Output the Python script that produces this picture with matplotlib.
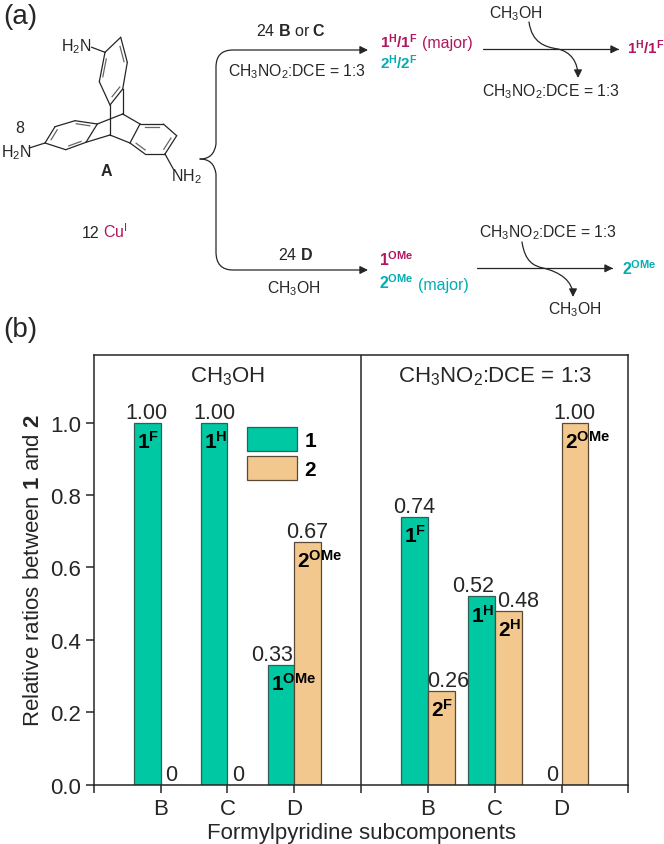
# -*- coding: utf-8 -*-
import matplotlib
matplotlib.use("Agg")
import matplotlib.pyplot as plt
from matplotlib.patches import FancyArrowPatch, Patch
from matplotlib.path import Path

plt.rcParams['font.family'] = ['Liberation Sans', 'DejaVu Sans']
plt.rcParams['mathtext.fontset'] = 'custom'
plt.rcParams['mathtext.rm'] = 'Liberation Sans'
plt.rcParams['mathtext.bf'] = 'Liberation Sans:bold'
plt.rcParams['mathtext.default'] = 'regular'

W, H = 664, 845
INK = '#262626'
TEAL = '#00C8A2'
TAN = '#F2C88E'
MAGENTA = '#B2155F'
CYAN = '#00ADB2'

# bar chart data
categories = ['B', 'C', 'D', 'B', 'C', 'D']
cat_pos = [1, 2, 3, 5, 6, 7]
series_1 = [1.00, 1.00, 0.33, 0.74, 0.52, 0]
series_2 = [0, 0, 0.67, 0.26, 0.48, 1.00]
value_text_1 = ['1.00', '1.00', '0.33', '0.74', '0.52', '0']
value_text_2 = ['0', '0', '0.67', '0.26', '0.48', '1.00']
names_1 = ['1^F', '1^H', '1^{OMe}', '1^F', '1^H', None]
names_2 = [None, None, '2^{OMe}', '2^F', '2^H', '2^{OMe}']
panel_titles = [r'CH$_3$OH', r'CH$_3$NO$_2$:DCE = 1:3']

# value label nudges in pixels
nudge_1 = [-1, 0, -9, 0, -8, 4]
nudge_2 = [-3, -3, 0, 7, 10, -1]

SOLV = r'CH$_3$NO$_2$:DCE = 1:3'
MEOH = r'CH$_3$OH'

# scheme text: x, baseline y (image pixels), text, colour, size
scheme_text = [
    (60.7, 51.7, r'H$_2$N', INK, 11.5),
    (15, 133, '8', INK, 11.5),
    (1, 157.7, r'H$_2$N', INK, 11.5),
    (100, 176, r'$\mathbf{A}$', INK, 11.5),
    (170.7, 181.7, r'NH$_2$', INK, 11.5),
    (82, 238, '12', INK, 11.5),
    (103, 238, r'Cu$^{I}$', MAGENTA, 11.5),
    (256, 35.7, r'24 $\mathbf{B}$ or $\mathbf{C}$', INK, 11.5),
    (228, 76.7, SOLV, INK, 11.3),
    (380, 47.7, r'$\mathbf{1^H/1^F}$', MAGENTA, 11),
    (421.7, 48, '(major)', MAGENTA, 11.5),
    (380, 69.3, r'$\mathbf{2^H/2^F}$', CYAN, 11),
    (489, 18, MEOH, INK, 11.3),
    (481.7, 96, SOLV, INK, 11.3),
    (627, 54, r'$\mathbf{1^H/1^F}$', MAGENTA, 10.8),
    (277.7, 260, r'24 $\mathbf{D}$', INK, 11.5),
    (266.7, 293, MEOH, INK, 11.3),
    (379, 266, r'$\mathbf{1^{OMe}}$', MAGENTA, 11.3),
    (379, 288.7, r'$\mathbf{2^{OMe}}$', CYAN, 11.3),
    (417.7, 290, '(major)', CYAN, 11.5),
    (479, 237.7, SOLV, INK, 11.3),
    (547.7, 314, MEOH, INK, 11.3),
    (622, 275, r'$\mathbf{2^{OMe}}$', CYAN, 11.3),
    (3, 24, '(a)', INK, 20),
    (3, 337, '(b)', INK, 20),
]

# triptycene rings, vertices in image pixels; inner lines on bonds given by index
ring_top = [(120.7, 38.3), (127.3, 63.3), (122.7, 90), (110, 106), (99.3, 82.7), (105, 53.3)]
ring_left = [(45, 144), (55, 127.7), (75, 121.7), (97.3, 125), (86, 143.3), (65.7, 150.7)]
ring_right = [(140, 125), (163.3, 125), (176.7, 136.7), (165, 155), (145, 155), (130, 144)]
ring_doubles = [0, 2, 4]
bridge_bonds = [
    ((110, 106), (110, 136)), ((122.7, 90), (122.7, 115)),
    ((97.3, 125), (122.7, 115)), ((86, 143.3), (110, 136)),
    ((122.7, 115), (140, 125)), ((110, 136), (130, 144)),
    ((105, 53.3), (91.7, 48.3)), ((45, 144), (29.3, 149)), ((165, 155), (173.3, 170)),
]


def draw_ring(ax, ring):
    cx = sum(p[0] for p in ring) / 6
    cy = sum(p[1] for p in ring) / 6
    for i in range(6):
        a, b = ring[i], ring[(i + 1) % 6]
        ax.plot([a[0], b[0]], [a[1], b[1]], color=INK, lw=0.9, solid_capstyle='round')
    for i in ring_doubles:
        a, b = ring[i], ring[(i + 1) % 6]
        ia = (a[0] + (cx - a[0]) * 0.2, a[1] + (cy - a[1]) * 0.2)
        ib = (b[0] + (cx - b[0]) * 0.2, b[1] + (cy - b[1]) * 0.2)
        sx = (ib[0] - ia[0]) * 0.12
        sy = (ib[1] - ia[1]) * 0.12
        ax.plot([ia[0] + sx, ib[0] - sx], [ia[1] + sy, ib[1] - sy], color='#666666', lw=0.9)


def draw_arrow(ax, verts, codes):
    arrow = FancyArrowPatch(path=Path(verts, codes), arrowstyle='-|>', mutation_scale=12,
                            color=INK, lw=0.9, shrinkA=0, shrinkB=0)
    ax.add_patch(arrow)


def draw_scheme(ax):
    ax.set_xlim(0, W)
    ax.set_ylim(H, 0)
    ax.axis('off')

    for ring in [ring_top, ring_left, ring_right]:
        draw_ring(ax, ring)
    for a, b in bridge_bonds:
        ax.plot([a[0], b[0]], [a[1], b[1]], color=INK, lw=0.9)

    M, L, C3, C4 = Path.MOVETO, Path.LINETO, Path.CURVE3, Path.CURVE4

    # brace into the two reaction arrows
    draw_arrow(ax, [(200, 160), (214, 160), (216, 145), (216, 68), (216, 51), (233, 51), (368, 51)],
               [M, C3, C3, L, C3, C3, L])
    draw_arrow(ax, [(200, 160), (214, 160), (216, 175), (216, 253), (216, 271), (233, 271), (368, 271)],
               [M, C3, C3, L, C3, C3, L])

    # straight arrows
    draw_arrow(ax, [(482.7, 50.3), (619, 50.3)], [M, L])
    draw_arrow(ax, [(477, 269.3), (613, 269.3)], [M, L])

    # solvent swap curves
    draw_arrow(ax, [(529, 23), (532, 44), (545, 48), (558, 50), (571, 53), (578, 63), (578, 79)],
               [M, C4, C4, C4, C4, C4, C4])
    draw_arrow(ax, [(522, 243), (525, 263), (534, 267), (543, 269), (560, 273), (573, 282), (573, 298)],
               [M, C4, C4, C4, C4, C4, C4])

    for x, y, s, col, size in scheme_text:
        ax.text(x, y, s, color=col, fontsize=size, ha='left', va='baseline')


def draw_bars(ax):
    ax.set_facecolor('none')
    width = 0.4
    for i, x in enumerate(cat_pos):
        ax.bar(x - width / 2, series_1[i], width, color=TEAL, edgecolor='#2f5f55', linewidth=0.9, zorder=2)
        ax.bar(x + width / 2, series_2[i], width, color=TAN, edgecolor='#5a4a35', linewidth=0.9, zorder=2)

        ax.annotate(value_text_1[i], (x - width / 2, series_1[i]), xytext=(nudge_1[i], 5),
                    textcoords='offset pixels', ha='center', va='baseline', fontsize=15.5, color=INK)
        ax.annotate(value_text_2[i], (x + width / 2, series_2[i]), xytext=(nudge_2[i], 5),
                    textcoords='offset pixels', ha='center', va='baseline', fontsize=15.5, color=INK)

        if names_1[i]:
            ax.annotate(r'$\mathbf{%s}$' % names_1[i], (x - width, series_1[i]), xytext=(3, -25),
                        textcoords='offset pixels', ha='left', va='baseline', fontsize=15,
                        color='black', zorder=4)
        if names_2[i]:
            ax.annotate(r'$\mathbf{%s}$' % names_2[i], (x, series_2[i]), xytext=(3, -25),
                        textcoords='offset pixels', ha='left', va='baseline', fontsize=15,
                        color='black', zorder=4)

    ax.set_xlim(0, 8)
    ax.set_ylim(0, 1.188)
    ax.axvline(4, color=INK, lw=1.1, zorder=3)

    ax.set_yticks([0, 0.2, 0.4, 0.6, 0.8, 1.0])
    ax.set_yticklabels(['0.0', '0.2', '0.4', '0.6', '0.8', '1.0'])
    ax.set_xticks([0] + cat_pos[:3] + [4] + cat_pos[3:] + [8])
    ax.set_xticklabels([''] + categories[:3] + [''] + categories[3:] + [''])
    ax.tick_params(axis='both', direction='out', length=5.8, width=1.1, color=INK,
                   labelsize=16, labelcolor=INK)
    ax.tick_params(axis='x', pad=3.5)
    ax.tick_params(axis='y', pad=3.5)
    for s in ax.spines.values():
        s.set_linewidth(1.1)
        s.set_color(INK)

    ax.set_ylabel(r'Relative ratios between $\mathbf{1}$ and $\mathbf{2}$', fontsize=16, color=INK)
    ax.yaxis.set_label_coords((44 - 93.7) / 534.8, 0.5)
    ax.set_xlabel('Formylpyridine subcomponents', fontsize=16, color=INK)
    ax.xaxis.set_label_coords(0.5, -(839 - 785.7) / 430.2)
    ax.xaxis.label.set_verticalalignment('baseline')

    ax.text(2, 1.1124, panel_titles[0], fontsize=16, color=INK, ha='center', va='baseline')
    ax.text(6, 1.1124, panel_titles[1], fontsize=16, color=INK, ha='center', va='baseline')

    handles = [Patch(facecolor=TEAL, edgecolor='#2f5f55', lw=0.9),
               Patch(facecolor=TAN, edgecolor='#5a4a35', lw=0.9)]
    leg = ax.legend(handles, ['1', '2'], loc='upper left', bbox_to_anchor=(0.2875, 0.8315),
                    frameon=False, borderpad=0, borderaxespad=0, handlelength=2.4,
                    handleheight=1.4, labelspacing=0.25, handletextpad=0.35,
                    prop={'weight': 'bold', 'size': 15})
    for t in leg.get_texts():
        t.set_color('black')


def main():
    fig = plt.figure(figsize=(W / 100, H / 100), dpi=100, facecolor='white')
    scheme_ax = fig.add_axes([0, 0, 1, 1])
    draw_scheme(scheme_ax)

    left, right, top, bottom = 93.7, 628.5, 355.5, 785.7
    bar_ax = fig.add_axes([left / W, 1 - bottom / H, (right - left) / W, (bottom - top) / H])
    draw_bars(bar_ax)

    fig.savefig('out.png', dpi=100)
    plt.close(fig)


if __name__ == "__main__":
    main()
